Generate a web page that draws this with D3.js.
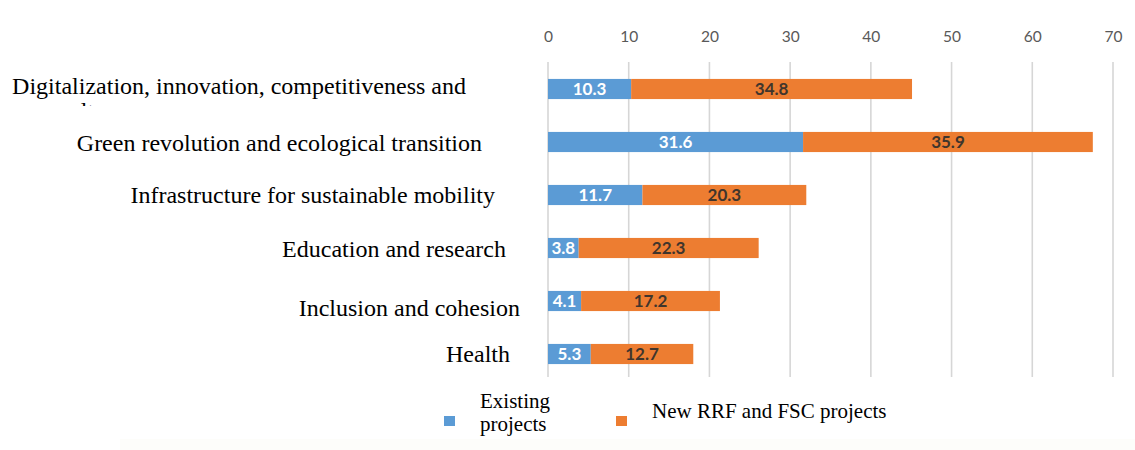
<!DOCTYPE html>
<html>
<head>
<meta charset="utf-8">
<script src="https://cdn.jsdelivr.net/npm/d3@7"></script>
<style>
  body { margin: 0; background: #fff; }
  svg { display: block; }
</style>
</head>
<body>
<svg id="chart" width="1135" height="450"></svg>
<script>
// Stacked horizontal bars: existing vs new projects per mission

const categories = [
  'Digitalization, innovation, competitiveness and',
  'Green revolution and ecological transition',
  'Infrastructure for sustainable mobility',
  'Education and research',
  'Inclusion and cohesion',
  'Health'
];
const existing = [10.3, 31.6, 11.7, 3.8, 4.1, 5.3];
const newProjects = [34.8, 35.9, 20.3, 22.3, 17.2, 12.7];
const xTicks = [0, 10, 20, 30, 40, 50, 60, 70];
const seriesNames = ['Existing projects', 'New RRF and FSC projects'];

// label layout (right edge and vertical nudge of each category label)
const labelRight = [466, 482, 495, 506, 520, 510];
const labelNudge = [-3, 1, 0, 1, 7, 0];

const colors = ['#5b9bd5', '#ed7d31'];

const svg = d3.select('#chart');

const x = d3.scaleLinear().domain([0, 70]).range([548, 1113]);
const y = d3.scaleBand()
  .domain(categories)
  .range([62.5, 380.5])
  .paddingInner(0.62)
  .paddingOuter(0.31);

// faint strip at the bottom of the picture
svg.append('rect')
  .attr('x', 120).attr('y', 439).attr('width', 1015).attr('height', 11)
  .attr('fill', '#fdfdfa');

// gridlines
svg.append('g')
  .selectAll('line')
  .data(xTicks)
  .join('line')
    .attr('x1', d => x(d)).attr('x2', d => x(d))
    .attr('y1', 62).attr('y2', 377)
    .attr('stroke', '#d6d6d6')
    .attr('stroke-width', 1.6);

// top axis
const axis = svg.append('g')
  .attr('transform', 'translate(0,42)')
  .call(d3.axisTop(x).tickValues(xTicks).tickSize(0).tickPadding(0));
axis.select('.domain').remove();
axis.selectAll('text')
  .attr('fill', '#595959')
  .style('font', '15.5px Lato, sans-serif');

// stacked data
const rows = categories.map((c, i) => ({ cat: c, values: [existing[i], newProjects[i]] }));
const stack = d3.stack().keys([0, 1]).value((d, k) => d.values[k]);
const layers = stack(rows);

const layerG = svg.append('g')
  .selectAll('g')
  .data(layers)
  .join('g')
    .attr('fill', (d, i) => colors[i]);

layerG.selectAll('rect')
  .data(d => d)
  .join('rect')
    .attr('x', d => x(d[0]))
    .attr('y', d => y(d.data.cat))
    .attr('width', d => x(d[1]) - x(d[0]))
    .attr('height', y.bandwidth());

// value labels
svg.append('g')
  .selectAll('g')
  .data(layers)
  .join('g')
    .attr('fill', (d, i) => i === 0 ? '#ffffff' : '#40352c')
  .selectAll('text')
  .data(d => d)
  .join('text')
    .attr('x', d => (x(d[0]) + x(d[1])) / 2)
    .attr('y', d => y(d.data.cat) + y.bandwidth() / 2)
    .attr('dy', '0.36em')
    .attr('text-anchor', 'middle')
    .style('font', 'bold 17px Lato, sans-serif')
    .text(d => (d[1] - d[0]).toFixed(1));

// category labels
const labelG = svg.append('g')
  .style('font', '24px "Liberation Serif", "Times New Roman", serif')
  .attr('fill', '#000');

labelG.selectAll('text')
  .data(categories)
  .join('text')
    .attr('x', (d, i) => labelRight[i])
    .attr('y', (d, i) => y(d) + y.bandwidth() / 2 + labelNudge[i])
    .attr('dy', '0.33em')
    .attr('text-anchor', 'end')
    .text(d => d);

// wrapped second line of the first label, cut off by the box above
svg.append('clipPath').attr('id', 'cut')
  .append('rect').attr('x', 0).attr('y', 0).attr('width', 540).attr('height', 106);
labelG.append('text')
  .attr('clip-path', 'url(#cut)')
  .attr('x', 58)
  .attr('y', 119)
  .text('culture');

// legend
const legend = svg.append('g')
  .style('font', '21px "Liberation Serif", "Times New Roman", serif')
  .attr('fill', '#000');

legend.append('rect')
  .attr('x', 444).attr('y', 416).attr('width', 11).attr('height', 10)
  .attr('fill', colors[0]);
legend.append('text').attr('x', 480).attr('y', 408).text('Existing');
legend.append('text').attr('x', 480).attr('y', 431).text('projects');

legend.append('rect')
  .attr('x', 616).attr('y', 416).attr('width', 11).attr('height', 10)
  .attr('fill', colors[1]);
legend.append('text').attr('x', 652).attr('y', 418).text(seriesNames[1]);
</script>
</body>
</html>
